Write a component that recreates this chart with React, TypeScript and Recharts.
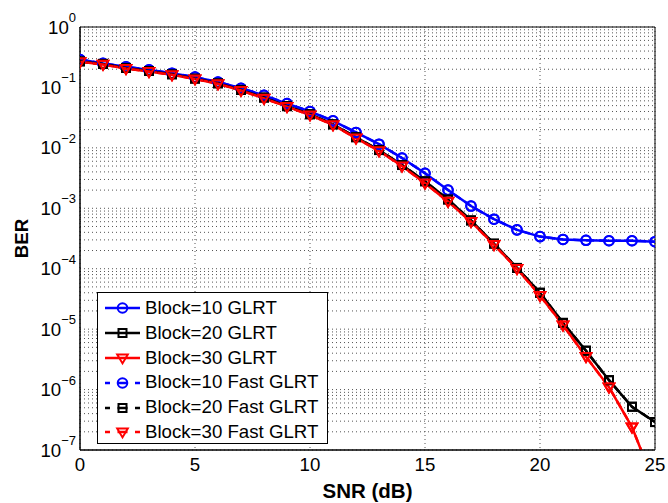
import React from 'react';
import { LineChart, Line, XAxis, YAxis, CartesianGrid, ReferenceArea } from 'recharts';

// SNR in dB, one point per dB
const snr = [0, 1, 2, 3, 4, 5, 6, 7, 8, 9, 10, 11, 12, 13, 14, 15, 16, 17, 18, 19, 20, 21, 22, 23, 24, 25];

// BER
const berBlock10 = [
  0.29, 0.25, 0.22, 0.195, 0.172, 0.148, 0.123, 0.097, 0.074, 0.054, 0.04, 0.028, 0.018,
  0.0115, 0.0068, 0.0038, 0.002, 0.00109, 0.00066, 0.00044, 0.00034, 0.000305, 0.000295,
  0.00029, 0.00029, 0.00028,
];
const berBlock20 = [
  0.27, 0.245, 0.21, 0.187, 0.165, 0.14, 0.117, 0.091, 0.068, 0.049, 0.036, 0.0245, 0.015,
  0.0092, 0.0052, 0.0028, 0.0014, 0.00063, 0.00026, 0.000103, 0.00004, 0.0000127, 0.0000044,
  0.00000143, 0.00000052, 0.00000029,
];
const berBlock30 = [
  0.265, 0.24, 0.205, 0.183, 0.162, 0.138, 0.115, 0.089, 0.066, 0.048, 0.035, 0.024, 0.0145,
  0.0089, 0.005, 0.0026, 0.0013, 0.0006, 0.00025, 0.0001, 0.000036, 0.0000117, 0.0000035,
  0.0000011, 0.00000024, 0.000000026,
];
// the fast variants lie on top of the plain GLRT curves
const berFast10 = [...berBlock10];
const berFast20 = [...berBlock20];
const berFast30 = [...berBlock30];

const xTicks = [0, 5, 10, 15, 20, 25];
const yTicks = [1e-7, 1e-6, 1e-5, 1e-4, 1e-3, 1e-2, 1e-1, 1];
const yTickExponents = ['\u22127', '\u22126', '\u22125', '\u22124', '\u22123', '\u22122', '\u22121', '0'];
const minorMantissas = [2, 3, 4, 5, 6, 7, 8, 9];
const yMinorTicks = yTicks
  .slice(0, -1)
  .flatMap((d) => minorMantissas.map((m) => m * d))
  .concat(yTicks)
  .sort((a, b) => a - b);

const table = snr.map((s, i) => ({
  snr: s,
  b10: berBlock10[i],
  b20: berBlock20[i],
  b30: berBlock30[i],
  f10: berFast10[i],
  f20: berFast20[i],
  f30: berFast30[i],
}));

type MarkerKind = 'circle' | 'square' | 'triangle';

const series: { key: string; name: string; color: string; marker: MarkerKind; dashed: boolean }[] = [
  { key: 'b10', name: 'Block=10 GLRT', color: '#0000ff', marker: 'circle', dashed: false },
  { key: 'b20', name: 'Block=20 GLRT', color: '#000000', marker: 'square', dashed: false },
  { key: 'b30', name: 'Block=30 GLRT', color: '#ff0000', marker: 'triangle', dashed: false },
  { key: 'f10', name: 'Block=10 Fast GLRT', color: '#0000ff', marker: 'circle', dashed: true },
  { key: 'f20', name: 'Block=20 Fast GLRT', color: '#000000', marker: 'square', dashed: true },
  { key: 'f30', name: 'Block=30 Fast GLRT', color: '#ff0000', marker: 'triangle', dashed: true },
];

const FONT = '"Liberation Sans", Arial, Helvetica, sans-serif';
const FS = 18.67;

function Marker({ kind, cx, cy, color }: { kind: MarkerKind; cx: number; cy: number; color: string }) {
  if (kind === 'circle') {
    return <circle cx={cx} cy={cy} r={4.8} fill="none" stroke={color} strokeWidth={2} />;
  }
  if (kind === 'square') {
    return <rect x={cx - 4} y={cy - 4} width={8} height={8} fill="none" stroke={color} strokeWidth={2} />;
  }
  return (
    <polygon
      points={`${cx - 5.3},${cy - 3.6} ${cx + 5.3},${cy - 3.6} ${cx},${cy + 5.4}`}
      fill="none"
      stroke={color}
      strokeWidth={2}
    />
  );
}

const makeDot = (kind: MarkerKind, color: string, id: string) => (p: any) => {
  if (p.cx == null || p.cy == null) return <g key={`${id}-${p.index}`} />;
  return (
    <g key={`${id}-${p.index}`}>
      <Marker kind={kind} cx={p.cx} cy={p.cy} color={color} />
    </g>
  );
};

// tick marks only, no text
const NoLabel = () => <g />;

const LogTick = (props: any) => {
  const { x, y, payload } = props;
  const idx = yTicks.findIndex((t) => Math.abs(t - payload.value) / t < 1e-6);
  return (
    <text x={x} y={y + 6.5} textAnchor="end" fontSize={FS} fill="#000" fontFamily={FONT}>
      10
      <tspan dy={-11.5} fontSize={13}>
        {yTickExponents[idx]}
      </tspan>
    </text>
  );
};

const BerLabel = (props: any) => {
  const vb = props.viewBox || {};
  const cy = vb.y != null ? vb.y + vb.height / 2 : 238;
  return (
    <text
      x={28}
      y={cy}
      transform={`rotate(-90, 28, ${cy})`}
      textAnchor="middle"
      fontSize={FS}
      fontWeight="bold"
      fill="#000"
      fontFamily={FONT}
    >
      BER
    </text>
  );
};

const SnrLabel = (props: any) => {
  const vb = props.viewBox || {};
  const cx = vb.x != null ? vb.x + vb.width / 2 : 367;
  return (
    <text x={cx} y={498} textAnchor="middle" fontSize={20.5} fontWeight="bold" fill="#000" fontFamily={FONT}>
      SNR (dB)
    </text>
  );
};

function LegendBox() {
  return (
    <div
      style={{
        position: 'absolute',
        left: 97,
        top: 292,
        width: 231,
        height: 152,
        boxSizing: 'border-box',
        border: '1px solid #000',
        background: '#fff',
        paddingTop: 3,
        fontFamily: FONT,
        fontSize: FS,
        color: '#000',
      }}
    >
      {series.map((s) => (
        <div key={s.key} style={{ display: 'flex', alignItems: 'center', height: 24.8 }}>
          <svg width={48} height={24} style={{ display: 'block', marginLeft: 7, flex: 'none' }}>
            <line
              x1={0}
              y1={12}
              x2={35}
              y2={12}
              stroke={s.color}
              strokeWidth={2.5}
              strokeDasharray={s.dashed ? '5 7.5 10 7.5 5' : undefined}
            />
            <Marker kind={s.marker} cx={17.5} cy={12} color={s.color} />
          </svg>
          <span style={{ marginLeft: -8, whiteSpace: 'nowrap', lineHeight: 1 }}>{s.name}</span>
        </div>
      ))}
    </div>
  );
}

const logAxis = {
  scale: 'log' as const,
  type: 'number' as const,
  domain: [1e-7, 1],
  interval: 0 as const,
  allowDataOverflow: true,
};

export default function App() {
  return (
    <div
      style={{
        position: 'absolute',
        left: 0,
        top: 0,
        width: 668,
        height: 503,
        background: '#fff',
        fontFamily: FONT,
      }}
    >
      <LineChart width={668} height={503} data={table} margin={{ top: 27, right: 13, bottom: 0, left: 0 }}>
        <CartesianGrid xAxisId="x" yAxisId="yMinorL" stroke="#555" strokeDasharray="1 3" />
        <XAxis
          xAxisId="x"
          dataKey="snr"
          type="number"
          domain={[0, 25]}
          ticks={xTicks}
          interval={0}
          height={53}
          tickLine={false}
          tickSize={6}
          tickMargin={2}
          axisLine={{ stroke: '#000' }}
          tick={{ fill: '#000', fontSize: FS, fontFamily: FONT }}
          allowDataOverflow
          label={{ content: (p: any) => <SnrLabel {...p} /> }}
        />
        <XAxis
          xAxisId="xb"
          type="number"
          domain={[0, 25]}
          ticks={xTicks}
          interval={0}
          orientation="bottom"
          mirror
          height={0}
          tick={NoLabel}
          tickSize={6}
          axisLine={false}
          tickLine={{ stroke: '#000' }}
        />
        <XAxis
          xAxisId="xt"
          type="number"
          domain={[0, 25]}
          ticks={xTicks}
          interval={0}
          orientation="top"
          mirror
          height={0}
          tick={NoLabel}
          tickSize={6}
          axisLine={{ stroke: '#000' }}
          tickLine={{ stroke: '#000' }}
        />
        <YAxis
          yAxisId="y"
          {...logAxis}
          ticks={yTicks}
          width={80}
          tickLine={false}
          tickSize={0}
          tickMargin={4}
          axisLine={{ stroke: '#000' }}
          tick={(p: any) => <LogTick {...p} />}
          label={{ content: (p: any) => <BerLabel {...p} /> }}
        />
        <YAxis
          yAxisId="yMinorL"
          {...logAxis}
          ticks={yMinorTicks}
          orientation="left"
          mirror
          width={0}
          tick={NoLabel}
          tickSize={3}
          axisLine={false}
          tickLine={{ stroke: '#000' }}
        />
        <YAxis
          yAxisId="yMajorL"
          {...logAxis}
          ticks={yTicks}
          orientation="left"
          mirror
          width={0}
          tick={NoLabel}
          tickSize={6}
          axisLine={false}
          tickLine={{ stroke: '#000' }}
        />
        <YAxis
          yAxisId="yMinorR"
          {...logAxis}
          ticks={yMinorTicks}
          orientation="right"
          mirror
          width={0}
          tick={NoLabel}
          tickSize={3}
          axisLine={{ stroke: '#000' }}
          tickLine={{ stroke: '#000' }}
        />
        <YAxis
          yAxisId="yMajorR"
          {...logAxis}
          ticks={yTicks}
          orientation="right"
          mirror
          width={0}
          tick={NoLabel}
          tickSize={6}
          axisLine={false}
          tickLine={{ stroke: '#000' }}
        />
        <ReferenceArea
          xAxisId="x"
          yAxisId="y"
          x1={0}
          x2={25}
          y1={1e-7}
          y2={1}
          fill="none"
          fillOpacity={0}
          stroke="#000"
          strokeWidth={1}
        />
        {series.map((s) => (
          <Line
            key={s.key}
            xAxisId="x"
            yAxisId="y"
            dataKey={s.key}
            name={s.name}
            type="linear"
            stroke={s.color}
            strokeWidth={2.5}
            strokeDasharray={s.dashed ? '8 5' : undefined}
            dot={makeDot(s.marker, s.color, s.key)}
            activeDot={false}
            isAnimationActive={false}
          />
        ))}
      </LineChart>
      <LegendBox />
    </div>
  );
}
